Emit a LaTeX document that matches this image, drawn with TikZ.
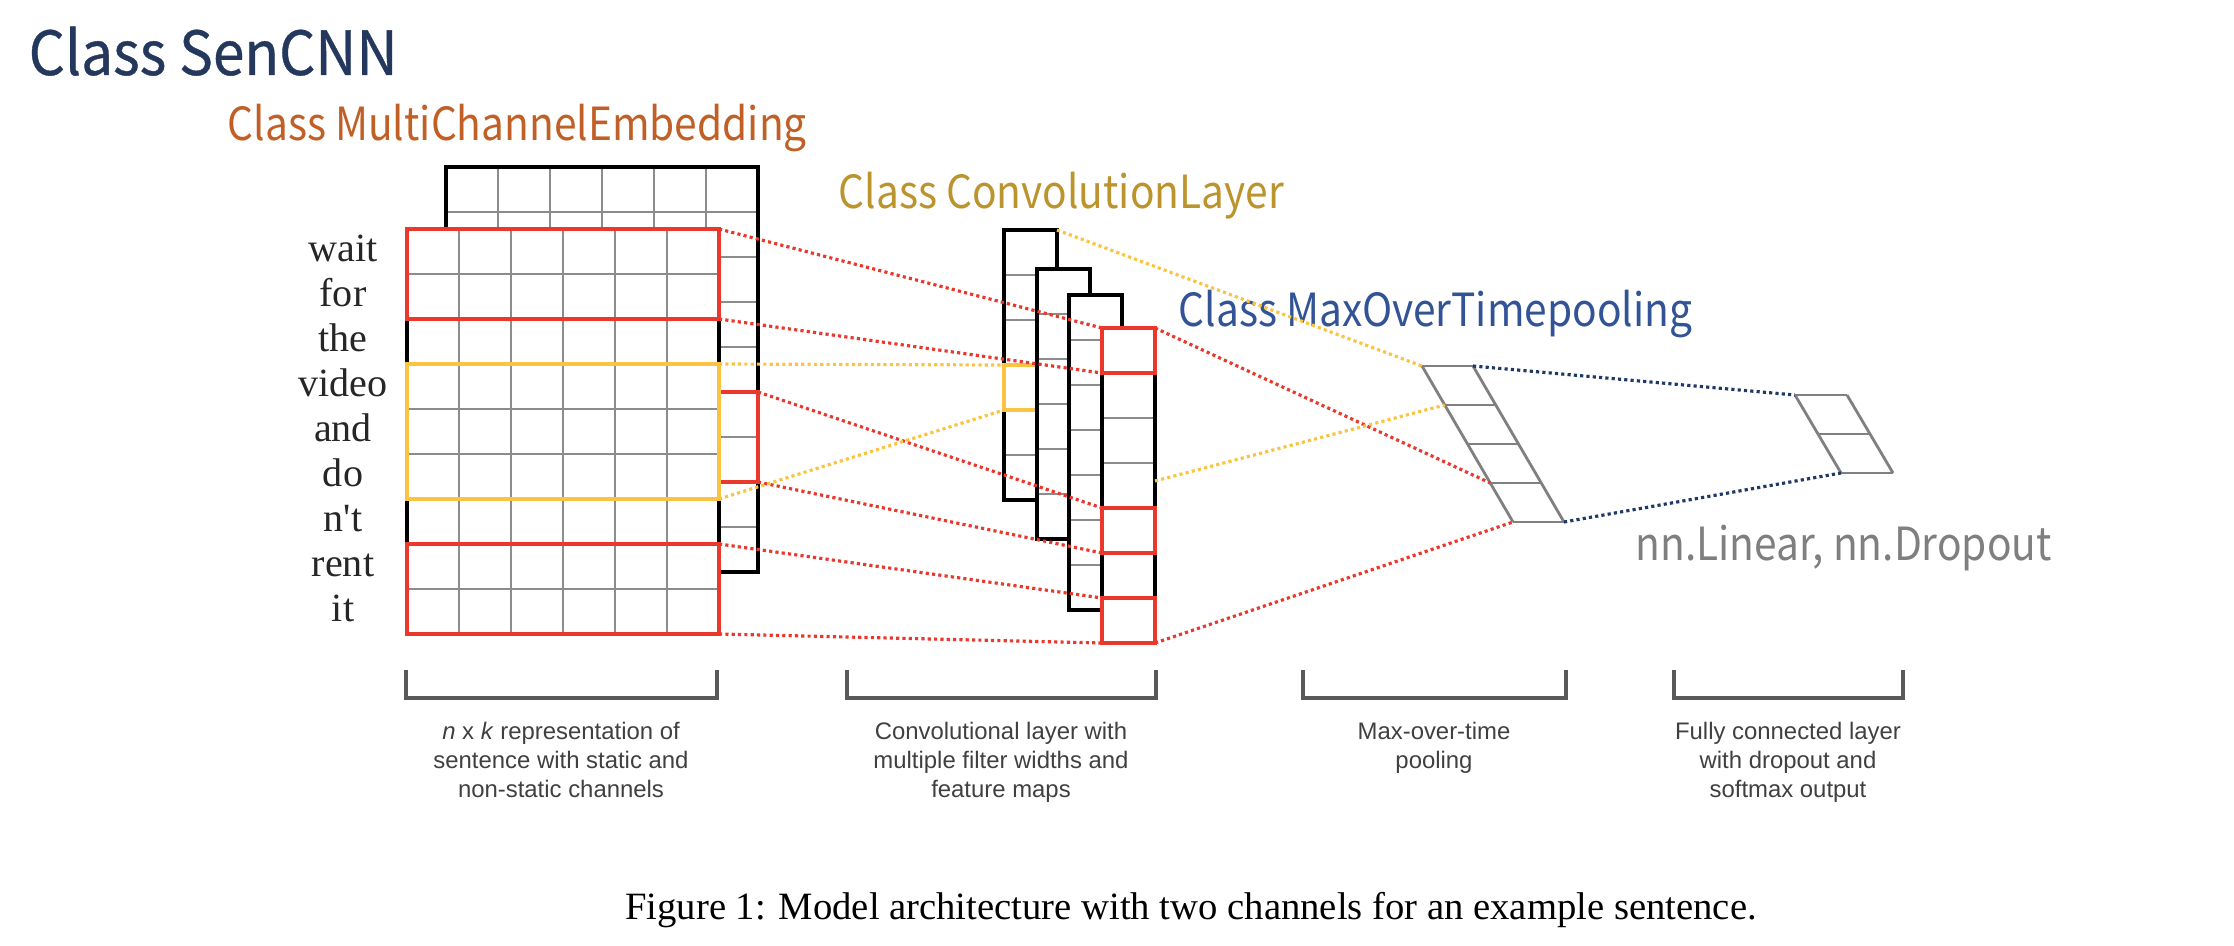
\documentclass[tikz,border=0pt]{standalone}
\usepackage{fontspec}
\setmainfont{Liberation Serif}
\newfontfamily\krfont{Noto Sans CJK KR}[FakeStretch=0.89]
\newfontfamily\krtitle{Noto Sans CJK KR}[FakeStretch=0.935,FakeBold=0.6]
\newfontfamily\capfont{Liberation Sans}
\usetikzlibrary{calc}

\definecolor{kimred}{RGB}{234,56,44}
\definecolor{kimyellow}{RGB}{250,196,66}
\definecolor{kimnavy}{RGB}{32,56,100}
\definecolor{sencol}{RGB}{36,56,94}
\definecolor{embcol}{RGB}{193,96,38}
\definecolor{convcol}{RGB}{188,148,46}
\definecolor{poolcol}{RGB}{50,84,150}
\definecolor{fccol}{RGB}{127,127,127}

\begin{document}
\begin{tikzpicture}[x=0.1mm,y=-0.1mm,
    grid line/.style={draw=black!45,line width=0.6pt},
    map frame/.style={draw=black,line width=0.9pt},
    red frame/.style={draw=kimred,line width=1.4pt},
    yellow frame/.style={draw=kimyellow,line width=1.3pt},
    red link/.style={draw=kimred,line width=0.9pt,dash pattern=on 0.9pt off 0.9pt},
    yellow link/.style={draw=kimyellow,line width=0.9pt,dash pattern=on 0.9pt off 0.9pt},
    navy link/.style={draw=kimnavy,line width=0.9pt,dash pattern=on 0.9pt off 0.9pt},
    pool cell/.style={draw=black!50,line width=0.8pt},
    brace line/.style={draw=black!65,line width=0.9pt},
    class label/.style={anchor=base west,inner sep=0pt,font=\krfont\fontsize{13}{13}\selectfont},
    word/.style={anchor=base,inner sep=0pt,text=black!85,font=\fontsize{11.4}{12}\selectfont},
    part text/.style={anchor=north,inner sep=0pt,align=center,text=black!75,
        font=\capfont\fontsize{6.8}{8.25}\selectfont}]

% Page size.
\useasboundingbox (0,0) rectangle (2234,946);

% Class names.
\node[class label,text=sencol,font=\krtitle\fontsize{17.3}{17.3}\selectfont] (sencnn) at (28,75) {Class SenCNN};
\node[class label,text=embcol] (embed) at (227,140) {Class MultiChannelEmbedding};
\node[class label,text=convcol] (conv) at (838,208) {Class ConvolutionLayer};
\node[class label,text=poolcol] (pool) at (1178,326) {Class MaxOverTimepooling};
\node[class label,text=fccol] (fc) at (1635,560) {nn.Linear, nn.Dropout};

% Two embedding channels, back one first.
\foreach \c/\x/\y/\r in {back/446/167/5,front/407/229/0} {
    \fill[white] (\x,\y) rectangle ++(312,405);
    \foreach \i in {1,...,5} \draw[grid line] (\x+\i*52,\y) -- ++(0,405);
    \foreach \j in {1,...,8} \draw[grid line] (\x,\y+\j*45) -- ++(312,0);
    \draw[map frame] (\x,\y) coordinate (\c) rectangle ++(312,405);
    % window on the back channel
    \ifnum\r>0 \draw[red frame] (\x,\y+\r*45) rectangle ++(312,90); \fi
}

% Windows on the front channel.
\draw[red frame] (407,229) rectangle (719,319);
\draw[yellow frame] (407,364) rectangle (719,499);
\draw[red frame] (407,544) rectangle (719,634);

% Words, one per row.
\foreach \w [count=\i from 0] in {wait,for,the,video,and,do,n\textquotesingle t,rent,it}
    \node[word] (w\i) at (343,261+\i*45) {\w};

% Feature maps.
\foreach \n/\x/\y/\r in {1/1004/230/6,2/1037/269/6,3/1069/295/7,4/1102/328/7} {
    \fill[white] (\x,\y) rectangle ++(53,\r*45);
    \pgfmathtruncatemacro\last{\r-1}
    \foreach \j in {1,...,\last} \draw[grid line] (\x,\y+\j*45) -- ++(53,0);
    \draw[map frame] (\x,\y) coordinate (map\n) rectangle ++(53,\r*45);
    \ifnum\n=1 \draw[yellow frame] (\x,\y+135) rectangle ++(53,45); \fi
}
\foreach \j in {0,4,6} \draw[red frame] (1102,328+\j*45) rectangle ++(53,45);

% Pooled vector and output layer.
\foreach \j in {0,...,4}
    \draw[pool cell] (1422+\j*22.75,366+\j*39) coordinate (pl\j) -- ++(51,0) coordinate (pr\j);
\draw[pool cell] (pl0) -- (pl4) (pr0) -- (pr4);
\foreach \j in {0,1,2}
    \draw[pool cell] (1795+\j*23,395+\j*39) coordinate (fl\j) -- ++(52,0) coordinate (fr\j);
\draw[pool cell] (fl0) -- (fl2) (fr0) -- (fr2);

% Link end points.
\coordinate (eA) at (719,229);
\coordinate (eB) at (719,319);
\coordinate (eC) at (758,392);
\coordinate (eD) at (758,482);
\coordinate (eE) at (719,544);
\coordinate (eF) at (719,634);
\coordinate (eY1) at (719,364);
\coordinate (eY2) at (719,499);
\foreach \k/\j in {A/0,B/1,C/4,D/5,E/6,F/7} \coordinate (c\k) at (1102,328+\j*45);
\coordinate (cY1) at (1004,365);
\coordinate (cY2) at (1004,410);
\coordinate (cR1) at (1057,230);
\coordinate (cR2) at (1155,481);
\coordinate (cR3) at (1155,328);
\coordinate (cR4) at (1155,643);

% Dotted links.
\foreach \a/\b in {eA/cA,eB/cB,eC/cC,eD/cD,eE/cE,eF/cF,cR3/pl3,cR4/pl4}
    \draw[red link] (\a) -- (\b);
\foreach \a/\b in {eY1/cY1,eY2/cY2,cR1/pl0,cR2/pl1}
    \draw[yellow link] (\a) -- (\b);
\draw[navy link] (pr0) -- (fl0);
\draw[navy link] (pr4) -- (fl2);

% Brackets under each part.
\foreach \a/\b in {406/717,847/1156,1303/1566,1674/1903}
    \draw[brace line] (\a,670) |- (\b,698) -- (\b,670);

\node[part text] (part1) at (561,721) {\textit{n} x \textit{k} representation of\\sentence with static and\\non-static channels};
\node[part text] (part2) at (1001,721) {Convolutional layer with\\multiple filter widths and\\feature maps};
\node[part text] (part3) at (1434,721) {Max-over-time\\pooling};
\node[part text] (part4) at (1788,721) {Fully connected layer\\with dropout and\\softmax output};

% Figure caption.
\node[anchor=base,inner sep=0pt,font=\fontsize{11}{12}\selectfont] (figcap) at (1191,919)
    {Figure 1: Model architecture with two channels for an example sentence.};
\end{tikzpicture}
\end{document}
